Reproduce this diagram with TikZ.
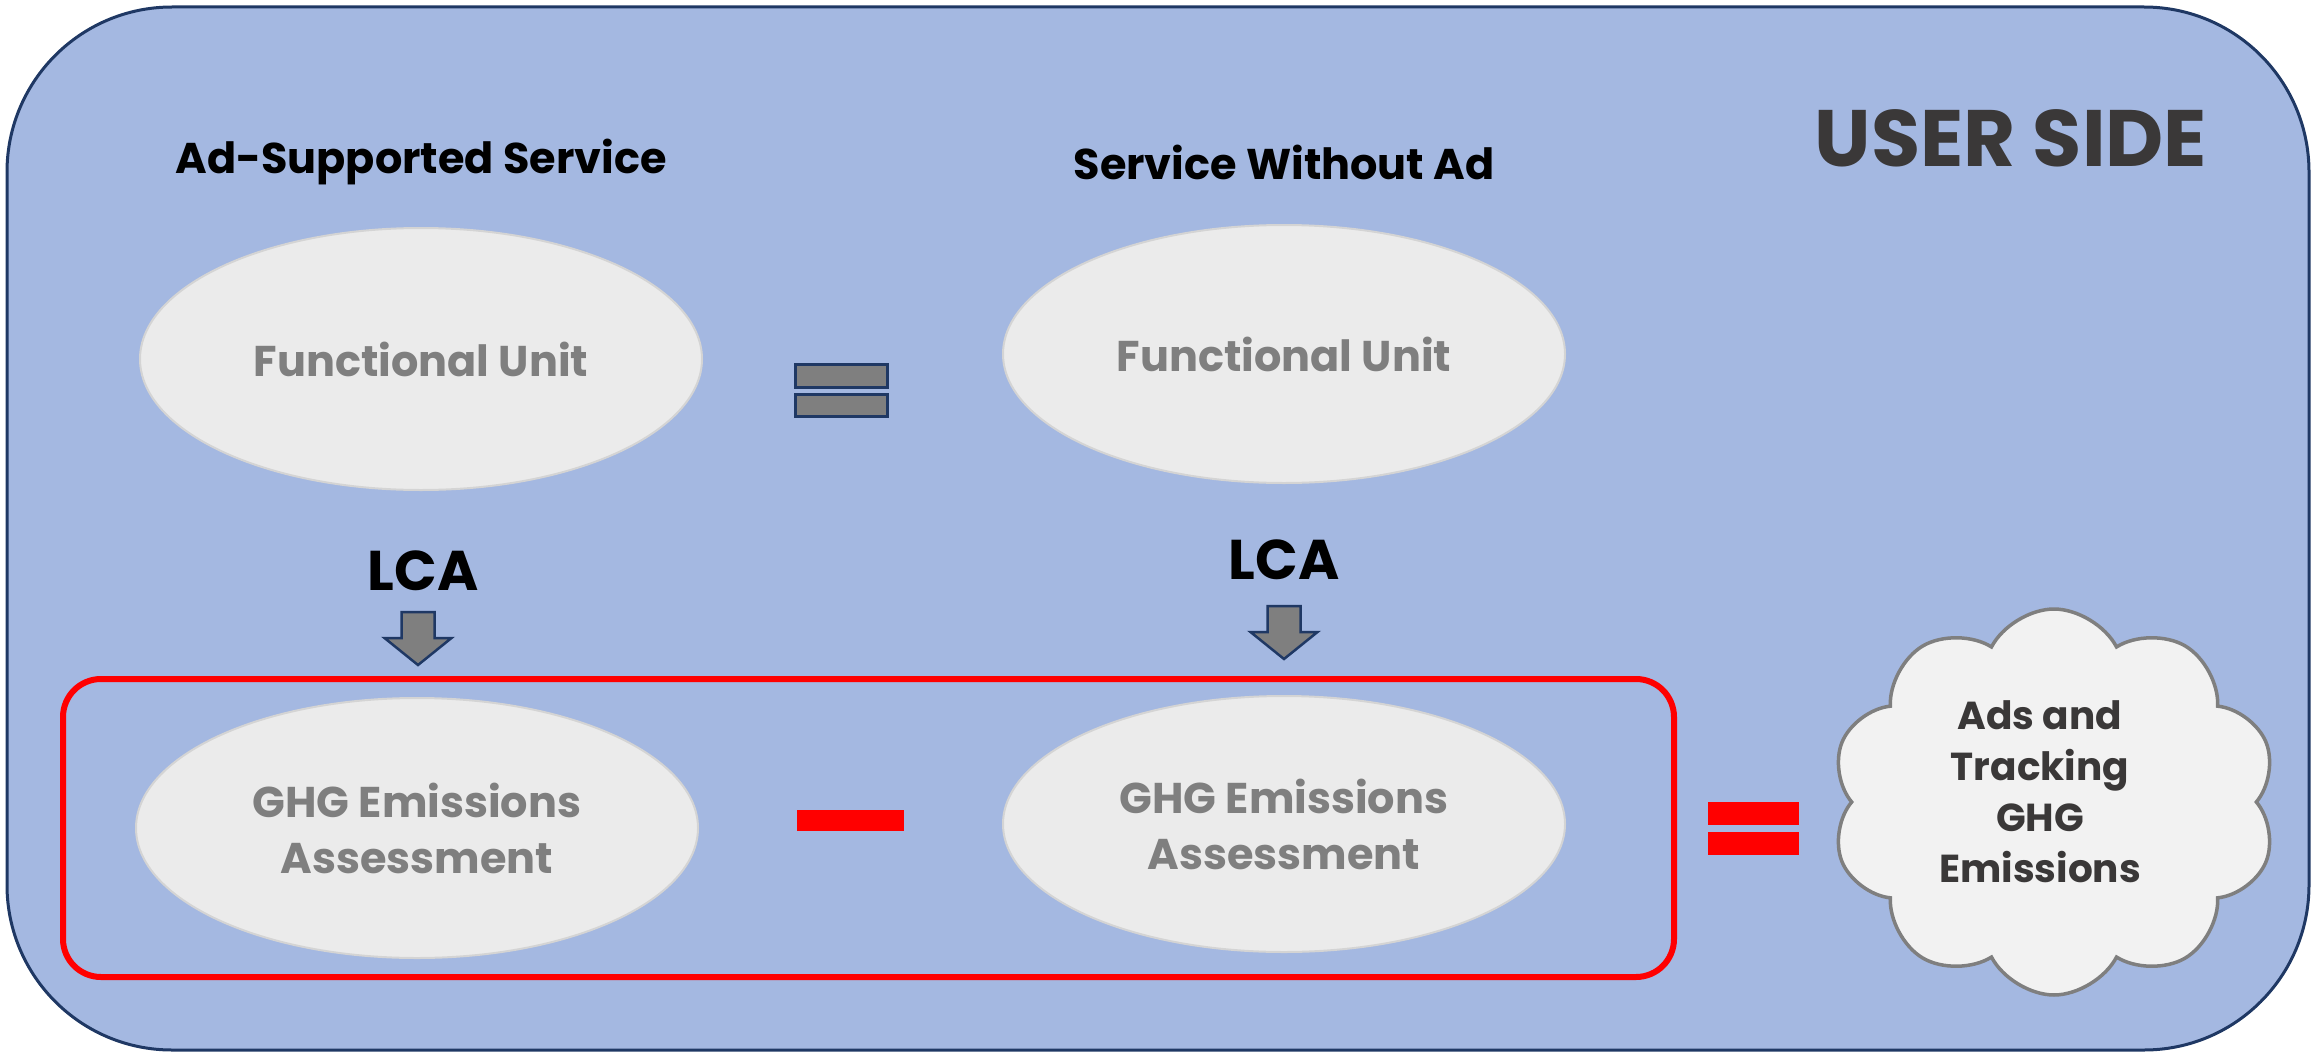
\documentclass[tikz,border=0pt]{standalone}
\usepackage{fontspec}
\setmainfont{Poppins}
\usetikzlibrary{shapes.geometric,shapes.symbols}
\definecolor{bgblue}{HTML}{A4B8E1}
\definecolor{navy}{HTML}{1F3864}
\definecolor{elfill}{HTML}{EBEBEB}
\definecolor{elline}{HTML}{D4D4D4}
\definecolor{eltext}{HTML}{7F7F7F}
\definecolor{darktext}{HTML}{3A3838}
\definecolor{cloudfill}{HTML}{F2F2F2}
\definecolor{cloudline}{HTML}{7F7F7F}
\definecolor{barred}{HTML}{FF0000}
\begin{document}
\begin{tikzpicture}[x=1pt,y=-1pt,
  unitel/.style={ellipse, fill=elfill, draw=elline, line width=2pt, minimum width=562pt, minimum height=262pt, inner sep=0pt, text=eltext, font=\fontsize{43}{56}\selectfont\bfseries, align=center},
  headtext/.style={font=\fontsize{43}{50}\selectfont\bfseries, text=black, inner sep=0pt},
  lcatext/.style={font=\fontsize{56}{60}\selectfont\bfseries, text=black, inner sep=0pt},
  graybar/.style={fill=eltext, draw=navy, line width=3pt},
  redbar/.style={fill=barred, draw=none},
  blockarrow/.style={fill=eltext, draw=navy, line width=2.5pt, line join=miter},
]
\useasboundingbox (0,0) rectangle (2319,1057);
% outer panel
\draw[fill=bgblue, draw=navy, line width=3pt, rounded corners=165pt] (7,7) rectangle (2309,1050);
\node[font=\fontsize{80}{82}\selectfont\bfseries, text=darktext, inner sep=0pt] (title) at (2011,138) {USER SIDE};
% headings
\node[headtext] (h1) at (421,162) {Ad-Supported Service};
\node[headtext] (h2) at (1284,162) {Service Without Ad};
% functional units
\node[unitel] (fu1) at (421,359) {Functional Unit};
\node[unitel, minimum height=258pt] (fu2) at (1284,354) {Functional Unit};
% gray equals
\draw[graybar] (795,364) rectangle (887,387);
\draw[graybar] (795,394) rectangle (887,416);
% LCA labels
\node[lcatext] (lca1) at (423,571) {LCA};
\node[lcatext] (lca2) at (1284,560) {LCA};
% block arrows
\draw[blockarrow, shift={(418,612)}] (-16.5,0) -- (16.5,0) -- (16.5,26) -- (33.5,26) -- (0,53) -- (-33.5,26) -- (-16.5,26) -- cycle;
\draw[blockarrow, shift={(1284,606)}] (-16.5,0) -- (16.5,0) -- (16.5,26) -- (33.5,26) -- (0,53) -- (-33.5,26) -- (-16.5,26) -- cycle;
% red frame
\draw[draw=barred, line width=6pt, rounded corners=38pt] (63,679) rectangle (1674,977);
% GHG ellipses
\node[unitel, minimum height=260pt] (ghg1) at (417,828) {GHG Emissions\\Assessment};
\node[unitel, minimum height=256pt] (ghg2) at (1284,824) {GHG Emissions\\Assessment};
% red minus and equals
\fill[redbar] (797,810) rectangle (904,831);
\fill[redbar] (1708,802) rectangle (1799,825);
\fill[redbar] (1708,832) rectangle (1799,855);
% cloud
\node[cloud, cloud puffs=10, cloud puff arc=125, fill=cloudfill, draw=cloudline, line width=3.5pt, minimum width=446pt, minimum height=386pt, inner sep=0pt, aspect=1.15] (cloud) at (2054,802) {};
\node[font=\fontsize{39}{51}\selectfont\bfseries, text=darktext, align=center, inner sep=0pt] (cloudtext) at (2040,792) {Ads and\\Tracking\\GHG\\Emissions};
\end{tikzpicture}
\end{document}
